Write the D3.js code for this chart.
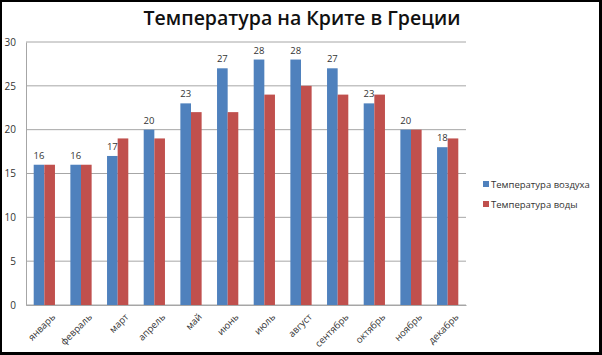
<!DOCTYPE html>
<html>
<head>
<meta charset="utf-8">
<script src="https://cdn.jsdelivr.net/npm/d3@7"></script>
<style>
  body { margin: 0; background: #000; }
  #chart { width: 602px; height: 355px; }
</style>
</head>
<body>
<div id="chart"></div>
<script>
// Temperatures on Crete, by month
var months = ["январь", "февраль", "март", "апрель", "май", "июнь", "июль", "август", "сентябрь", "октябрь", "ноябрь", "декабрь"];
var airTemp = [16, 16, 17, 20, 23, 27, 28, 28, 27, 23, 20, 18];
var waterTemp = [16, 16, 19, 19, 22, 22, 24, 25, 24, 24, 20, 19];
var seriesNames = ["Температура воздуха", "Температура воды"];
var seriesColors = ["#4f81bd", "#c0504d"];
var yTicks = [0, 5, 10, 15, 20, 25, 30];

var svgWidth = 602, svgHeight = 355;
var margin = { top: 42, right: 136, bottom: 50, left: 26 };
var chartWidth = svgWidth - margin.left - margin.right;
var chartHeight = svgHeight - margin.top - margin.bottom;
var font = "'Open Sans', sans-serif";

var svg = d3.select("#chart")
  .append("svg")
  .attr("width", svgWidth)
  .attr("height", svgHeight);

// black frame round a white sheet
svg.append("rect")
  .attr("x", 2).attr("y", 2)
  .attr("width", svgWidth - 5).attr("height", svgHeight - 5)
  .attr("fill", "white");

svg.append("text")
  .attr("x", 302).attr("y", 25)
  .attr("text-anchor", "middle")
  .attr("font-family", font)
  .attr("font-weight", 600)
  .attr("font-size", 19.5)
  .attr("fill", "#111")
  .text("Температура на Крите в Греции");

var chart = svg.append("g")
  .attr("transform", "translate(" + margin.left + "," + margin.top + ")");

var x = d3.scaleBand().domain(months).range([0, chartWidth]).paddingInner(0.42).paddingOuter(0.21);
var y = d3.scaleLinear().domain([0, 30]).range([chartHeight, 0]);

// gridlines
chart.selectAll(".grid")
  .data(yTicks)
  .enter()
  .append("line")
  .attr("x1", 0).attr("x2", chartWidth)
  .attr("y1", function(d) { return y(d); })
  .attr("y2", function(d) { return y(d); })
  .attr("stroke", "#a6a6a6")
  .attr("stroke-width", 1);

// y axis
var yAxis = chart.append("g").call(d3.axisLeft(y).tickValues(yTicks).tickSize(0).tickPadding(10));
yAxis.select(".domain").attr("stroke", "#a6a6a6");
yAxis.selectAll("text").attr("font-family", font).attr("font-size", 10).attr("fill", "#333");

var bw = x.bandwidth() / 2;
var series = [airTemp, waterTemp];

series.forEach(function(values, s) {
  chart.selectAll(".bar" + s)
    .data(values)
    .enter()
    .append("rect")
    .attr("x", function(d, i) { return x(months[i]) + s * bw; })
    .attr("y", function(d) { return y(d); })
    .attr("width", bw)
    .attr("height", function(d) { return chartHeight - y(d); })
    .attr("fill", seriesColors[s]);
});

// value labels on air temperature
chart.selectAll(".lbl")
  .data(airTemp)
  .enter()
  .append("text")
  .attr("x", function(d, i) { return x(months[i]) + bw / 2; })
  .attr("y", function(d) { return y(d) - 6; })
  .attr("text-anchor", "middle")
  .attr("font-family", font)
  .attr("font-size", 9.5)
  .attr("fill", "#333")
  .text(function(d) { return d; });

// x axis
var xAxis = chart.append("g")
  .attr("transform", "translate(0," + chartHeight + ")")
  .call(d3.axisBottom(x).tickSize(0).tickPadding(6));
xAxis.select(".domain").attr("stroke", "#a6a6a6");
xAxis.selectAll("text")
  .attr("font-family", font)
  .attr("font-size", 9.5)
  .attr("fill", "#333")
  .attr("text-anchor", "end")
  .attr("dy", "0.35em")
  .attr("transform", "translate(5,6) rotate(-45)");

// legend
var legend = svg.append("g").attr("transform", "translate(483,181)");
seriesNames.forEach(function(name, i) {
  legend.append("rect")
    .attr("x", 0).attr("y", i * 20)
    .attr("width", 6).attr("height", 6)
    .attr("fill", seriesColors[i]);
  legend.append("text")
    .attr("x", 8).attr("y", i * 20 + 6.5)
    .attr("font-family", font)
    .attr("font-size", 9.5)
    .attr("fill", "#333")
    .text(name);
});
</script>
</body>
</html>
